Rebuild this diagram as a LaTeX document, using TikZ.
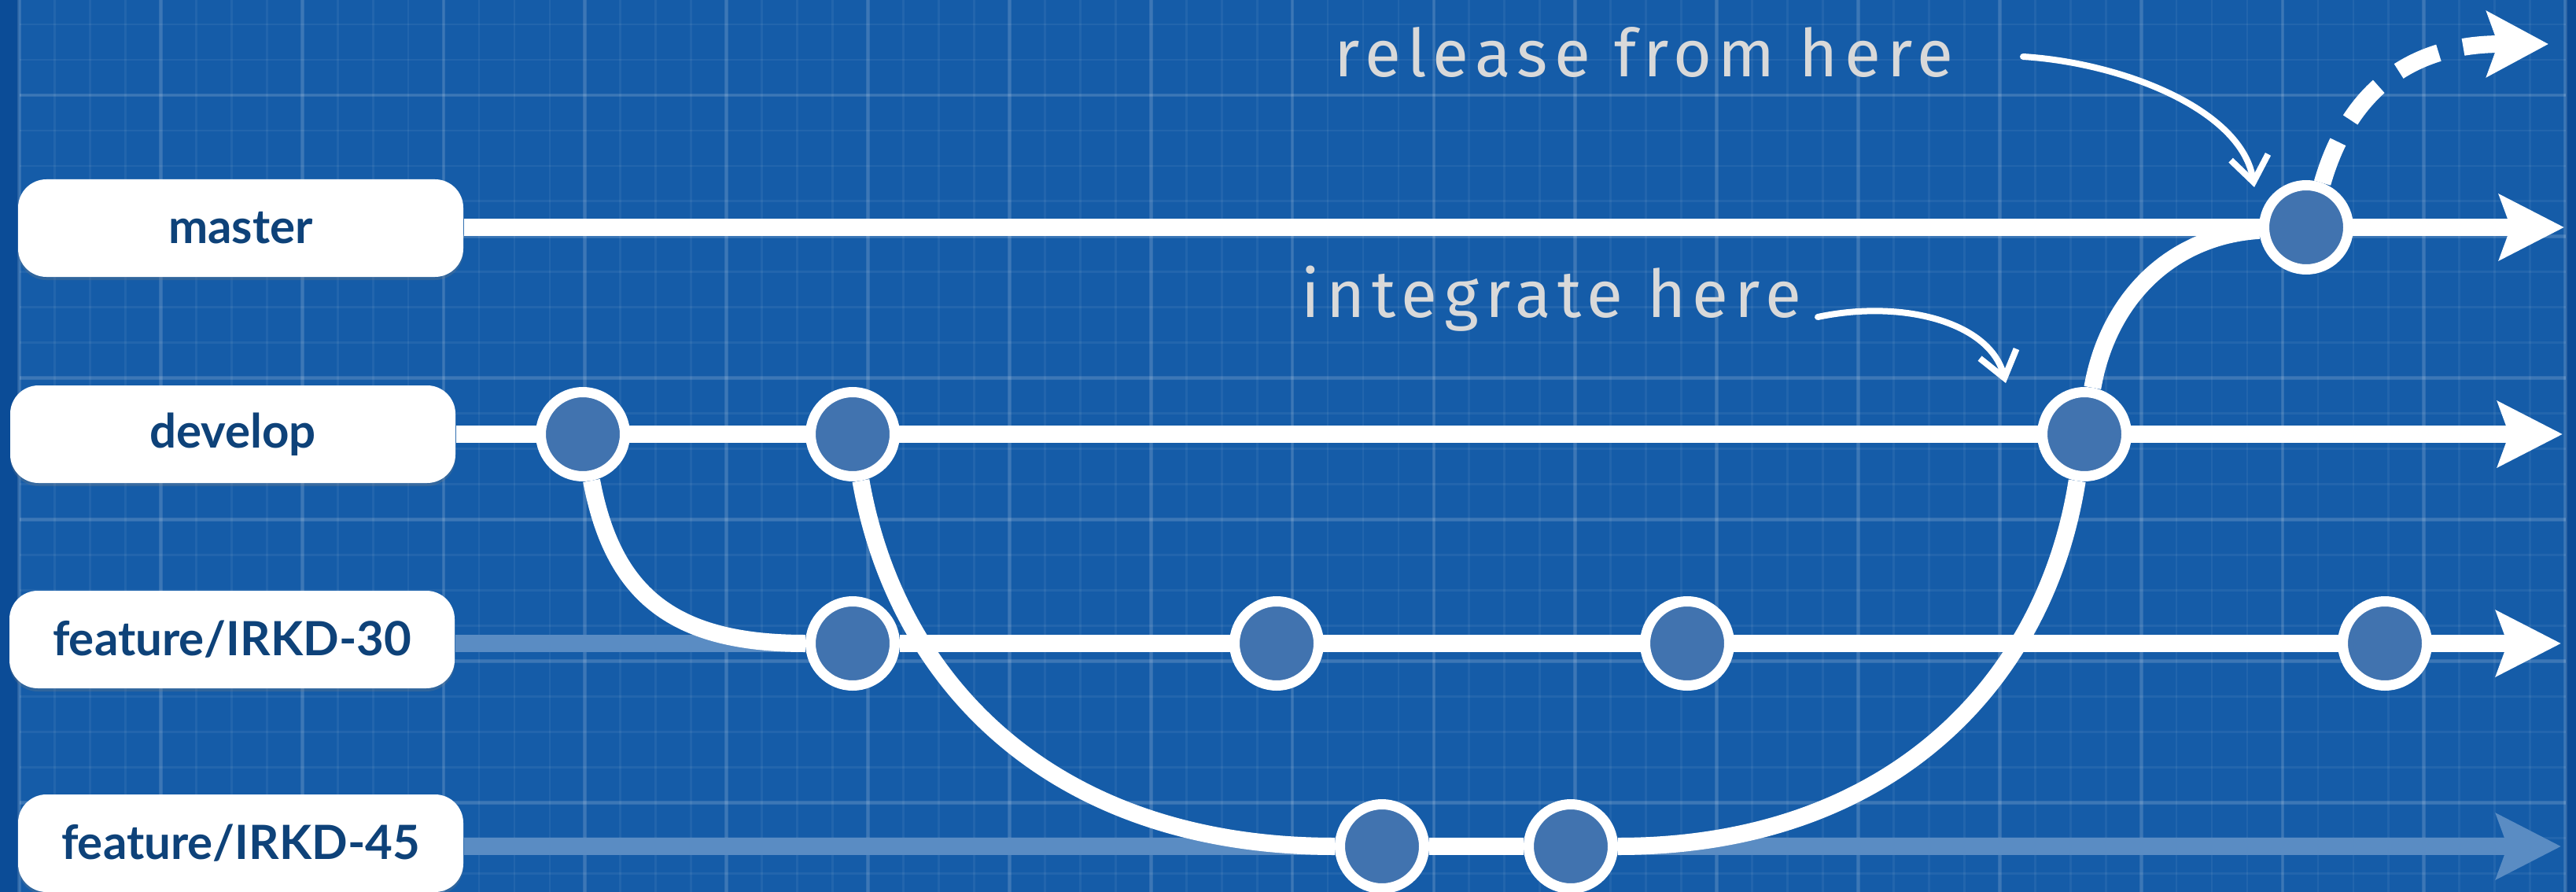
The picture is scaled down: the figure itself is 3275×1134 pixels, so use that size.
\documentclass[tikz,border=0pt]{standalone}
\usepackage{fontspec}
\usetikzlibrary{arrows.meta,shadows,calc}
\newfontfamily\labfont{Lato}
\newfontfamily\handfont[LetterSpace=10]{Fira Sans}
\definecolor{bgblue}{HTML}{155CA8}
\definecolor{bgedge}{HTML}{0B4C97}
\definecolor{commitfill}{HTML}{4173AF}
\definecolor{labtext}{HTML}{0E4279}
\definecolor{fadeline}{HTML}{5A8CC3}
\definecolor{chalk}{HTML}{D9D9D9}
\pgfdeclarelayer{bg}
\pgfdeclarelayer{lines}
\pgfsetlayers{bg,lines,main}
\begin{document}
\begin{tikzpicture}[x=0.25pt,y=-0.25pt,
  branchlabel/.style={fill=white, rounded corners=9pt, minimum width=141.5pt, minimum height=31pt, inner sep=0pt,
    font=\labfont\bfseries\fontsize{15pt}{15pt}\selectfont, text=labtext,
    drop shadow={opacity=0.25, shadow xshift=0pt, shadow yshift=-1pt}},
  commit/.style={circle, draw=white, line width=3.25pt, fill=commitfill, minimum size=26.75pt, inner sep=0pt},
  branch/.style={white, line width=5.5pt},
  fadebranch/.style={fadeline, line width=5.5pt},
  tipend/.style={-{Stealth[length=20.5pt, width=20.5pt, inset=3.5pt]}},
  minorgrid/.style={white, opacity=0.06, line width=0.7pt},
  majorgrid/.style={white, opacity=0.12, line width=1.2pt},
  chalkarrow/.style={white, line width=2pt, line cap=round, -{Straight Barb[length=8pt, width=12pt, line width=2pt]}},
  handtext/.style={text=chalk, font=\handfont\fontsize{21pt}{21pt}\selectfont, inner sep=0pt, anchor=base west}
]
\useasboundingbox (0,0) rectangle (3275,1134);

\begin{pgfonlayer}{bg}
  \fill[bgblue] (0,0) rectangle (3275,1134);
  \fill[bgedge] (0,0) rectangle (24,1134);
  \fill[bgedge] (3262,0) rectangle (3275,1134);
  \foreach \i in {0,...,72}
    \draw[minorgrid] ({24.5+\i*44.96},0) -- ({24.5+\i*44.96},1134);
  \foreach \j in {-2,...,22}
    \draw[minorgrid] (24.5,{121+\j*44.96}) -- (3262,{121+\j*44.96});
  \foreach \i in {0,...,18}
    \draw[majorgrid] ({24.5+\i*179.84},0) -- ({24.5+\i*179.84},1134);
  \foreach \j in {-1,...,5}
    \draw[majorgrid] (24.5,{121+\j*179.84}) -- (3262,{121+\j*179.84});
\end{pgfonlayer}

% branch labels
\node[branchlabel] (master)  at (306,290)  {master};
\node[branchlabel] (develop) at (296,552)  {develop};
\node[branchlabel] (f30)     at (295,813)  {feature/IRKD-30};
\node[branchlabel] (f45)     at (306,1072) {feature/IRKD-45};

% commits
\node[commit] (d1) at (741,552) {};
\node[commit] (d2) at (1084,552) {};
\node[commit] (d3) at (2650,552) {};
\node[commit] (a1) at (1084,818) {};
\node[commit] (a2) at (1623,818) {};
\node[commit] (a3) at (2145,818) {};
\node[commit] (a4) at (3032,818) {};
\node[commit] (b1) at (1757,1076) {};
\node[commit] (b2) at (1997,1076) {};
\node[commit] (m1) at (2932,289) {};

% arrow tip ends
\coordinate (mtip) at (3260,289);
\coordinate (dtip) at (3258,552);
\coordinate (atip) at (3256,818);
\coordinate (btip) at (3256,1076);
\coordinate (reltip) at (3240,56);

\begin{pgfonlayer}{lines}
  \draw[fadebranch] (f30.east |- a1) -- (a1);
  \draw[fadebranch, tipend] (f45.east |- b1) -- (btip);
  \draw[branch, tipend] (master.east |- m1) -- (mtip);
  \draw[branch, tipend] (develop.east |- d1) -- (dtip);
  \draw[branch, tipend] (a1) -- (atip);
  \draw[branch] (d1) .. controls (780,760) and (860,818) .. (a1);
  \draw[branch] (d2) .. controls (1140,870) and (1340,1076) .. (b1);
  \draw[branch] (b1) -- (b2);
  \draw[branch] (b2) .. controls (2400,1076) and (2600,870) .. (d3);
  \draw[branch] (d3) .. controls (2680,380) and (2760,300) .. (m1);
  \draw[branch, dash pattern=on 14pt off 8pt, -{Stealth[length=19.5pt, width=20.5pt, inset=3.5pt]}]
    (m1.70) .. controls (2985,120) and (3060,56) .. (reltip);
\end{pgfonlayer}

% chalk annotations
\node[handtext] (rel) at (1696,98) {release from here};
\node[handtext] (integ) at (1654,403) {integrate here};
\coordinate (relstart) at (2572,72);
\coordinate (relend) at (2866,238);
\coordinate (intstart) at (2311,403);
\coordinate (intend) at (2550,487);
\draw[chalkarrow] (relstart) .. controls (2700,80) and (2850,140) .. (relend);
\draw[chalkarrow] (intstart) .. controls (2420,380) and (2530,410) .. (intend);
\end{tikzpicture}
\end{document}
